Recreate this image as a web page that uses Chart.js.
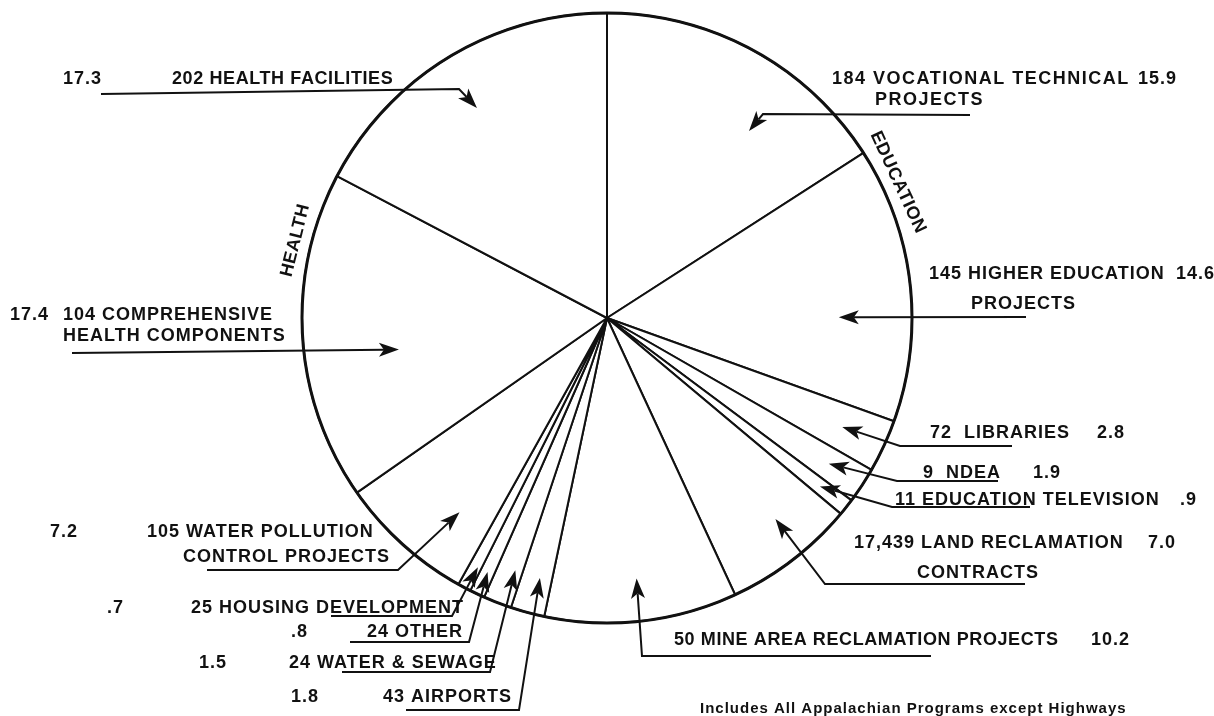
<!DOCTYPE html>
<html>
<head>
<meta charset="utf-8">
<script src="https://cdn.jsdelivr.net/npm/chart.js@4.4.0/dist/chart.umd.min.js"></script>
<style>
  html, body { margin: 0; padding: 0; background: #fff; }
  #wrap { width: 1214px; height: 716px; position: relative; }
</style>
</head>
<body>
<div id="wrap"><canvas id="pie"></canvas></div>
<script>
// Programme shares, clockwise from 12 o'clock
const categories = [
  'VOCATIONAL TECHNICAL', 'HIGHER EDUCATION', 'LIBRARIES', 'NDEA', 'EDUCATION TELEVISION',
  'LAND RECLAMATION', 'MINE AREA RECLAMATION PROJECTS', 'AIRPORTS', 'WATER & SEWAGE',
  'OTHER', 'HOUSING DEVELOPMENT', 'WATER POLLUTION', 'COMPREHENSIVE', 'HEALTH FACILITIES'
];
const secondLines = [
  'PROJECTS', 'PROJECTS', '', '', '', 'CONTRACTS', '', '', '', '', '',
  'CONTROL PROJECTS', 'HEALTH COMPONENTS', ''
];
const projectCounts = ['184', '145', '72 ', '9 ', '11', '17,439', '50', '43', '24', '24', '25', '105', '104', '202'];
const sharePct = [15.9, 14.6, 2.8, 1.9, 0.9, 7.0, 10.2, 1.8, 1.5, 0.8, 0.7, 7.2, 17.4, 17.3];

// group captions set along the rim (angle in degrees clockwise from 12 o'clock)
const groupNames = ['EDUCATION', 'HEALTH'];
const groupAngles = [65, 284];

const footnote = 'Includes All Appalachian Programs except Highways';

// where each callout sits: name / second line / percent anchors, leader path,
// and arrow tip inside its slice (t = share of slice angle, rf = share of radius)
const layout = [
  { name: [832, 84], line2: [875, 105], pct: [1138, 84], path: [[970, 115], [763, 114]], t: 0.65, rf: 0.77, ls: 1.5 },
  { name: [929, 279], line2: [971, 309], pct: [1176, 279], path: [[1026, 317]], t: 0.62, rf: 0.76, ls: 1 },
  { name: [930, 438], pct: [1097, 438], path: [[1012, 446], [900, 446]], t: 0.5, rf: 0.85 },
  { name: [923, 478], pct: [1033, 478], path: [[998, 481], [897, 481]], t: 0.5, rf: 0.87 },
  { name: [895, 505], pct: [1180, 505], path: [[1030, 507], [892, 507]], t: 0.5, rf: 0.89 },
  { name: [854, 548], line2: [917, 578], pct: [1148, 548], path: [[1025, 584], [825, 584]], t: 0.4, rf: 0.86 },
  { name: [674, 645], pct: [1091, 645], path: [[931, 656], [642, 656]], t: 0.5, rf: 0.86, ls: 0.6 },
  { name: [383, 702], pct: [291, 702], path: [[406, 710], [519, 710]], t: 0.4, rf: 0.88 },
  { name: [289, 668], pct: [199, 668], path: [[342, 672], [490, 672]], t: 0.3, rf: 0.88 },
  { name: [367, 637], pct: [291, 637], path: [[350, 642], [469, 642]], t: 0.5, rf: 0.92 },
  { name: [191, 613], pct: [107, 613], path: [[331, 616], [452, 616]], t: 0.3, rf: 0.92 },
  { name: [147, 537], line2: [183, 562], pct: [50, 537], path: [[207, 570], [398, 570]], t: 0.31, rf: 0.80 },
  { name: [63, 320], line2: [63, 341], pct: [10, 320], path: [[72, 353]], t: 0.42, rf: 0.69 },
  { name: [172, 84], pct: [63, 84], path: [[101, 94], [459, 89]], t: 0.49, rf: 0.81, ls: 0.6 }
];

const FONT = '"Liberation Sans", Arial, Helvetica, sans-serif';
const INK = '#111';

function fmtPct(v) {
  return v < 1 ? '.' + v.toFixed(1).split('.')[1] : v.toFixed(1);
}

function drawArrow(ctx, pts, tip) {
  const last = pts[pts.length - 1];
  const ang = Math.atan2(tip.y - last[1], tip.x - last[0]);
  const headLen = 20, headW = 7;
  const cos = Math.cos(ang), sin = Math.sin(ang);
  const bx = tip.x - headLen * cos, by = tip.y - headLen * sin;
  const nx = tip.x - headLen * 0.75 * cos, ny = tip.y - headLen * 0.75 * sin;

  ctx.beginPath();
  ctx.moveTo(pts[0][0], pts[0][1]);
  for (let i = 1; i < pts.length; i++) ctx.lineTo(pts[i][0], pts[i][1]);
  ctx.lineTo(nx, ny);
  ctx.stroke();

  ctx.beginPath();
  ctx.moveTo(tip.x, tip.y);
  ctx.lineTo(bx + headW * sin, by - headW * cos);
  ctx.lineTo(nx, ny);
  ctx.lineTo(bx - headW * sin, by + headW * cos);
  ctx.closePath();
  ctx.fill();
}

const calloutPlugin = {
  id: 'callouts',
  afterDraw(chart) {
    const ctx = chart.ctx;
    const arcs = chart.getDatasetMeta(0).data;
    const cx = arcs[0].x, cy = arcs[0].y, R = arcs[0].outerRadius;

    ctx.save();
    // heavier rim
    ctx.strokeStyle = INK;
    ctx.lineWidth = 3;
    ctx.beginPath();
    ctx.arc(cx, cy, R, 0, Math.PI * 2);
    ctx.stroke();

    ctx.fillStyle = INK;
    ctx.lineWidth = 2;
    ctx.lineJoin = 'miter';
    ctx.textBaseline = 'alphabetic';
    ctx.textAlign = 'left';

    arcs.forEach((arc, i) => {
      const L = layout[i];
      const a = arc.startAngle + L.t * (arc.endAngle - arc.startAngle);
      const tip = {
        x: arc.x + L.rf * arc.outerRadius * Math.cos(a),
        y: arc.y + L.rf * arc.outerRadius * Math.sin(a)
      };

      ctx.font = 'bold 18px ' + FONT;
      ctx.letterSpacing = (L.ls !== undefined ? L.ls : 1) + 'px';
      ctx.fillText(projectCounts[i] + ' ' + categories[i], L.name[0], L.name[1]);
      if (L.line2 && secondLines[i]) ctx.fillText(secondLines[i], L.line2[0], L.line2[1]);
      ctx.letterSpacing = '1px';
      ctx.fillText(fmtPct(sharePct[i]), L.pct[0], L.pct[1]);

      drawArrow(ctx, L.path, tip);
    });

    // group captions
    ctx.font = 'bold 18px ' + FONT;
    ctx.letterSpacing = '0.5px';
    ctx.textAlign = 'center';
    ctx.textBaseline = 'middle';
    groupNames.forEach((g, k) => {
      const deg = groupAngles[k];
      const a = (deg - 90) * Math.PI / 180;
      const r = R + 16;
      const x = cx + r * Math.cos(a), y = cy + r * Math.sin(a);
      ctx.save();
      ctx.translate(x, y);
      ctx.rotate((deg < 180 ? deg : deg - 360) * Math.PI / 180);
      ctx.fillText(g, 0, 0);
      ctx.restore();
    });

    ctx.font = 'bold 15px ' + FONT;
    ctx.letterSpacing = '1px';
    ctx.textAlign = 'left';
    ctx.textBaseline = 'alphabetic';
    ctx.fillText(footnote, 700, 713);
    ctx.restore();
  }
};

new Chart(document.getElementById('pie').getContext('2d'), {
  type: 'pie',
  data: {
    labels: categories,
    datasets: [{
      data: sharePct,
      backgroundColor: '#ffffff',
      borderColor: INK,
      borderWidth: 2
    }]
  },
  options: {
    responsive: true,
    maintainAspectRatio: false,
    animation: false,
    events: [],
    layout: { padding: { top: 12, bottom: 92 } },
    plugins: {
      legend: { display: false },
      tooltip: { enabled: false }
    }
  },
  plugins: [calloutPlugin]
});
</script>
</body>
</html>
